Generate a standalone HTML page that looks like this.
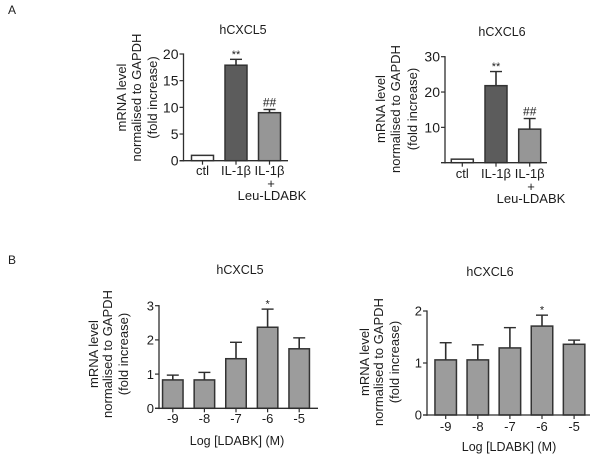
<!DOCTYPE html>
<html>
<head>
<meta charset="utf-8">
<style>
html,body{margin:0;padding:0;background:#fff;}
svg{display:block;}
text{font-family:"Liberation Sans",sans-serif;fill:#1c1c1c;}
</style>
</head>
<body>
<svg id="fig" xmlns="http://www.w3.org/2000/svg" width="600" height="458" viewBox="0 0 600 458">
<text x="8" y="14" font-size="12">A</text>
<text x="8" y="264" font-size="12">B</text>
</svg>
<script>
const a1Categories = ['ctl', 'IL-1β', 'IL-1β'];
const a1Values = [1, 17.9, 9.0];
const a1ErrorTops = [1, 19.0, 9.6];
const a1Ticks = [0, 5, 10, 15, 20];
const a1Marks = ['', '**', '##'];
const a1Fills = ['#ffffff', '#5c5c5c', '#969696'];

const a2Categories = ['ctl', 'IL-1β', 'IL-1β'];
const a2Values = [1, 21.8, 9.5];
const a2ErrorTops = [1, 25.8, 12.5];
const a2Ticks = [10, 20, 30];
const a2Marks = ['', '**', '##'];
const a2Fills = ['#ffffff', '#5c5c5c', '#969696'];

const b1Categories = ['-9', '-8', '-7', '-6', '-5'];
const b1Values = [0.83, 0.83, 1.45, 2.37, 1.74];
const b1ErrorTops = [0.97, 1.05, 1.93, 2.9, 2.06];
const b1Ticks = [0, 1, 2, 3];
const b1Marks = ['', '', '', '*', ''];
const b1Fills = ['#9c9c9c', '#9c9c9c', '#9c9c9c', '#9c9c9c', '#9c9c9c'];

const b2Categories = ['-9', '-8', '-7', '-6', '-5'];
const b2Values = [1.06, 1.06, 1.29, 1.71, 1.36];
const b2ErrorTops = [1.39, 1.35, 1.68, 1.92, 1.44];
const b2Ticks = [0, 1, 2];
const b2Marks = ['', '', '', '*', ''];
const b2Fills = ['#9c9c9c', '#9c9c9c', '#9c9c9c', '#9c9c9c', '#9c9c9c'];

const NS = 'http://www.w3.org/2000/svg';
const fig = document.getElementById('fig');

function mk(tag, attrs, parent) {
  const el = document.createElementNS(NS, tag);
  for (const k in attrs) el.setAttribute(k, attrs[k]);
  parent.appendChild(el);
  return el;
}

function line(parent, x1, y1, x2, y2, w) {
  const el = mk('line', {x1: x1, y1: y1, x2: x2, y2: y2, stroke: '#2e2e2e', 'stroke-width': w}, parent);
  
  
  return el;
}

function label(parent, x, y, str, size, anchor) {
  const el = mk('text', {x: x, y: y, 'font-size': size, 'text-anchor': anchor || 'middle'}, parent);
  el.textContent = str;
  
  
  return el;
}

function drawChart(c) {
  const g = mk('g', {}, fig);
  
  

  const yScale = v => c.y0 - (v / c.yMax) * (c.y0 - c.yTop);
  const xScale = i => c.xStart + i * c.xStep;

  label(g, c.titleX, c.titleY, c.title, 12.5);

  c.yTitleLines.forEach(function (t, i) {
    const tx = c.yTitleX[i];
    const el = label(g, tx, c.yTitleY, t, 13);
    el.setAttribute('transform', 'rotate(-90 ' + tx + ' ' + c.yTitleY + ')');
  });

  c.values.forEach(function (v, i) {
    const x = xScale(i);
    const top = yScale(c.errorTops[i]);
    const yv = yScale(v);
    if (c.errorTops[i] > v) {
      line(g, x, yv, x, top, 1.6);
      line(g, x - 6, top, x + 6, top, 1.4);
    }
    const bar = mk('rect', {x: x - c.barW / 2, y: yv, width: c.barW, height: c.y0 - yv, fill: c.fills[i], stroke: '#333', 'stroke-width': 1.5}, g);
    
    
    if (c.marks[i]) {
      const isStar = c.marks[i].indexOf('*') >= 0;
      label(g, x, top + (isStar ? -1.5 : -3), c.marks[i], isStar ? 11 : 12);
    }
    label(g, x, c.xLabelY, c.categories[i], 13);
    line(g, x, c.y0, x, c.y0 + 4, 1.2);
  });

  line(g, c.axisX, c.yTop - 0.6, c.axisX, c.y0 + 0.8, 1.3);
  line(g, c.axisX - 4, c.y0, c.xEnd, c.y0, 1.3);

  c.ticks.forEach(function (t) {
    const y = yScale(t);
    line(g, c.axisX - 4, y, c.axisX, y, 1.2);
    label(g, c.axisX - 5, y + c.tickSize * 0.36, String(t), c.tickSize, 'end');
  });

  if (c.extra) {
    label(g, c.extra.plusX, c.extra.plusY, '+', 13);
    label(g, c.extra.leuX, c.extra.leuY, 'Leu-LDABK', 13);
  }
  if (c.xTitle) label(g, c.xTitleX, c.xTitleY, c.xTitle, 12.5);
}

const yLines = ['mRNA level', 'normalised to GAPDH', '(fold increase)'];

drawChart({name: 'chart-a-hcxcl5', title: 'hCXCL5', titleX: 243, titleY: 34,
  categories: a1Categories, values: a1Values, errorTops: a1ErrorTops, ticks: a1Ticks, marks: a1Marks, fills: a1Fills,
  yMax: 20, y0: 160.7, yTop: 54, axisX: 183.5, xEnd: 288, xStart: 202.5, xStep: 33.5, barW: 22,
  xLabelY: 175, tickSize: 14,
  yTitleLines: yLines, yTitleX: [126, 141, 157], yTitleY: 97.5,
  extra: {plusX: 271, plusY: 188, leuX: 272, leuY: 200}});

drawChart({name: 'chart-a-hcxcl6', title: 'hCXCL6', titleX: 502, titleY: 36,
  categories: a2Categories, values: a2Values, errorTops: a2ErrorTops, ticks: a2Ticks, marks: a2Marks, fills: a2Fills,
  yMax: 30, y0: 162.7, yTop: 56.7, axisX: 445, xEnd: 547, xStart: 462.3, xStep: 33.7, barW: 22,
  xLabelY: 178, tickSize: 14,
  yTitleLines: yLines, yTitleX: [385, 400, 417], yTitleY: 109,
  extra: {plusX: 531, plusY: 191, leuX: 531, leuY: 203}});

drawChart({name: 'chart-b-hcxcl5', title: 'hCXCL5', titleX: 240, titleY: 274,
  categories: b1Categories, values: b1Values, errorTops: b1ErrorTops, ticks: b1Ticks, marks: b1Marks, fills: b1Fills,
  yMax: 3, y0: 408.3, yTop: 305.7, axisX: 159, xEnd: 318, xStart: 172.8, xStep: 31.6, barW: 20.5,
  xLabelY: 423, tickSize: 13,
  xTitle: 'Log [LDABK] (M)', xTitleX: 237, xTitleY: 445,
  yTitleLines: yLines, yTitleX: [98, 112, 128], yTitleY: 354});

drawChart({name: 'chart-b-hcxcl6', title: 'hCXCL6', titleX: 490, titleY: 276,
  categories: b2Categories, values: b2Values, errorTops: b2ErrorTops, ticks: b2Ticks, marks: b2Marks, fills: b2Fills,
  yMax: 2, y0: 415, yTop: 311, axisX: 427, xEnd: 590, xStart: 445.7, xStep: 32.1, barW: 21.5,
  xLabelY: 431, tickSize: 13,
  xTitle: 'Log [LDABK] (M)', xTitleX: 509, xTitleY: 451,
  yTitleLines: yLines, yTitleX: [369, 383, 399], yTitleY: 362});
</script>
</body>
</html>
